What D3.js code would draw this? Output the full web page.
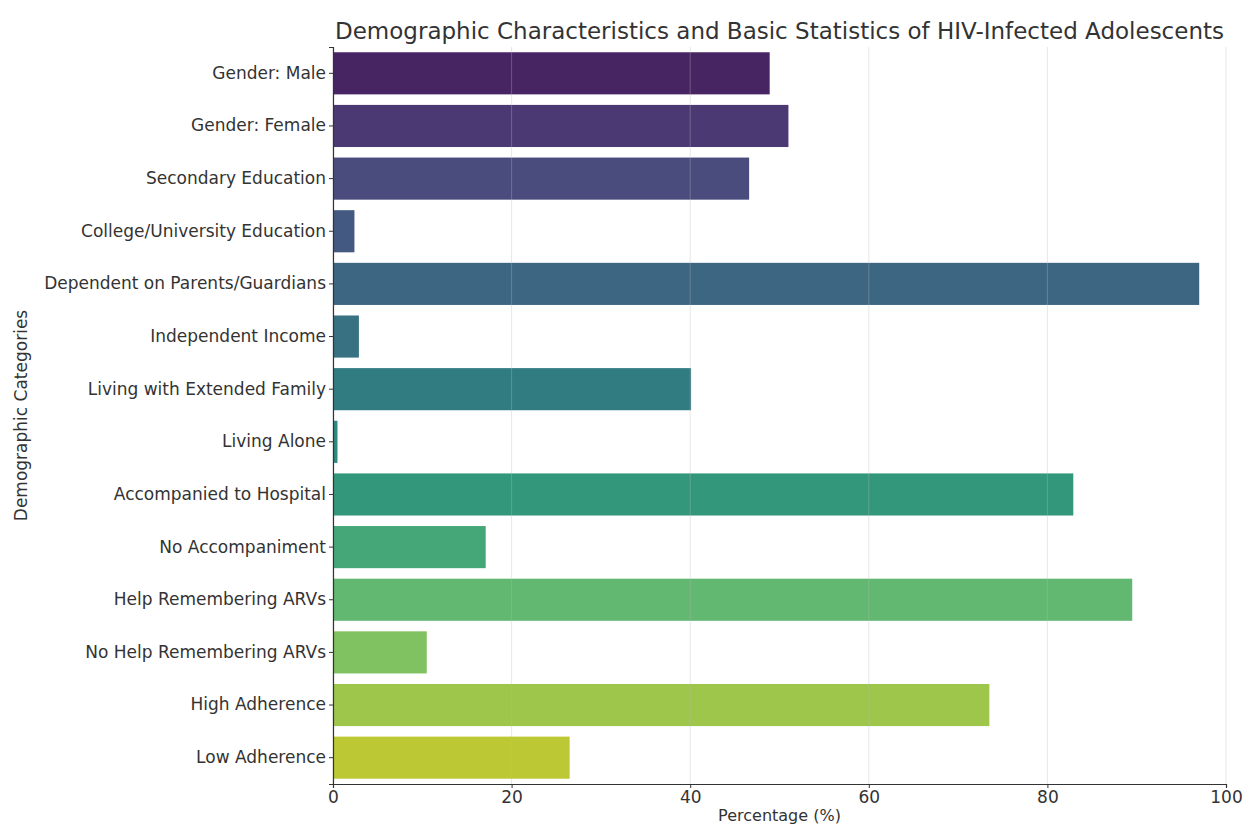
<!DOCTYPE html>
<html>
<head>
<meta charset="utf-8">
<script src="https://cdn.jsdelivr.net/npm/d3@7"></script>
<style>
  body { margin: 0; background: #fff; }
  svg { display: block; font-family: "DejaVu Sans", sans-serif; }
</style>
</head>
<body>
<svg id="chart" width="1246" height="828"></svg>
<script>
const categories = [
  "Gender: Male",
  "Gender: Female",
  "Secondary Education",
  "College/University Education",
  "Dependent on Parents/Guardians",
  "Independent Income",
  "Living with Extended Family",
  "Living Alone",
  "Accompanied to Hospital",
  "No Accompaniment",
  "Help Remembering ARVs",
  "No Help Remembering ARVs",
  "High Adherence",
  "Low Adherence"
];
const percentages = [48.9, 51.0, 46.6, 2.4, 97.0, 2.9, 40.1, 0.5, 82.9, 17.1, 89.5, 10.5, 73.5, 26.5];
const xTicks = [0, 20, 40, 60, 80, 100];
const titleText = "Demographic Characteristics and Basic Statistics of HIV-Infected Adolescents";
const xLabel = "Percentage (%)";
const yLabel = "Demographic Categories";

const svg = d3.select("#chart");
const margin = { left: 333, right: 20, top: 47, bottom: 44 };
const W = 1246, H = 828;
const x = d3.scaleLinear().domain([0, 100]).range([margin.left, 1226]);
const y = d3.scaleBand().domain(categories).range([margin.top, H - margin.bottom]).paddingInner(0.2).paddingOuter(0.1);

// seaborn-like desaturated viridis palette
const n = categories.length;
const colors = categories.map((c, i) => {
  const col = d3.hsl(d3.interpolateViridis((i + 1) / (n + 1)));
  col.s = col.s * 0.75;
  return col.formatHex();
});

const fs = 17;

// bars
svg.append("g").selectAll("rect").data(percentages).join("rect")
  .attr("x", x(0))
  .attr("y", (d, i) => y(categories[i]))
  .attr("width", d => x(d) - x(0))
  .attr("height", y.bandwidth())
  .attr("fill", (d, i) => colors[i]);

// gridlines (drawn over bars, faint)
svg.append("g").selectAll("line").data(xTicks).join("line")
  .attr("x1", d => x(d)).attr("x2", d => x(d))
  .attr("y1", margin.top).attr("y2", H - margin.bottom)
  .attr("stroke", "#b8b8b8").attr("stroke-opacity", 0.35).attr("stroke-width", 1);

// x axis
const xAxis = svg.append("g")
  .attr("transform", `translate(0,${H - margin.bottom})`)
  .call(d3.axisBottom(x).tickValues(xTicks).tickSize(4).tickPadding(3).tickFormat(d3.format("d")));
xAxis.select(".domain").attr("stroke", "#333").attr("stroke-width", 1.2);
xAxis.selectAll(".tick line").attr("stroke", "#333");
xAxis.selectAll("text").attr("font-size", fs).attr("fill", "#333").attr("font-family", "DejaVu Sans");

// y axis
const yAxis = svg.append("g")
  .attr("transform", `translate(${margin.left},0)`)
  .call(d3.axisLeft(y).tickSize(4).tickPadding(3));
yAxis.select(".domain").attr("stroke", "#333").attr("stroke-width", 1.2);
yAxis.selectAll(".tick line").attr("stroke", "#333");
yAxis.selectAll("text").attr("font-size", fs).attr("fill", "#333").attr("font-family", "DejaVu Sans");

// title
svg.append("text")
  .attr("x", (x(0) + x(100)) / 2).attr("y", 39)
  .attr("text-anchor", "middle")
  .attr("font-size", 23).attr("fill", "#333")
  .text(titleText);

// x label
svg.append("text")
  .attr("x", (x(0) + x(100)) / 2).attr("y", 821)
  .attr("text-anchor", "middle")
  .attr("font-size", 16).attr("fill", "#333")
  .text(xLabel);

// y label
svg.append("text")
  .attr("transform", `translate(27,${(margin.top + H - margin.bottom) / 2}) rotate(-90)`)
  .attr("text-anchor", "middle")
  .attr("font-size", fs).attr("fill", "#333")
  .text(yLabel);
</script>
</body>
</html>
